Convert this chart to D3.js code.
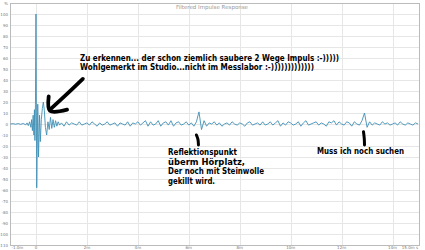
<!DOCTYPE html>
<html>
<head>
<meta charset="utf-8">
<title>Filtered Impulse Response</title>
<script src="https://cdnjs.cloudflare.com/ajax/libs/d3/7.8.5/d3.min.js"></script>
<style>
  html, body { margin: 0; padding: 0; background: #fff; }
  .tick-label { font-family: "DejaVu Sans", sans-serif; font-size: 4px; fill: #777; }
  .note { font-family: "DejaVu Sans", Verdana, sans-serif; font-weight: bold; font-size: 8.2px; fill: #000; }
</style>
</head>
<body>
<div id="chart"></div>
<script>
// head of the impulse, irregular samples [ms, %]
const headTimes = [-1.0, -0.9, -0.8, -0.7, -0.6, -0.5, -0.4, -0.35, -0.3, -0.25, -0.2, -0.17, -0.14, -0.11, -0.08, -0.06, -0.04, -0.02,
  0, 0.03, 0.07, 0.1, 0.14, 0.17, 0.21, 0.25, 0.29, 0.33, 0.37, 0.42, 0.47, 0.52, 0.57, 0.62, 0.67, 0.72, 0.77, 0.82, 0.87, 0.93];
const headValues = [0, 0.3, -0.2, 0.4, -0.3, 0.5, -0.8, 1, -1.5, 2, -3, 4, -6, 8, -10, 13, -15, 18,
  100, -58, 18, -30, 8, -16, 4, 14, 20, 12, -3, -10, 2, -5, 6, -4, 4, -3, 3, -2, 2, -1];

// tail, sampled every 0.1 ms from 1.0 ms
const tailStart = 1.0;
const tailStep = 0.1;
const tailValues = [
  1, -2, 2, -1, 1, 0, -1, 2, -1, 0,
  1, -1, 2, 0, -2, 1, -1, 0, 2, -1,
  0, 1, -2, 1, 0, -1, 2, -2, 1, 0,
  2, -1, 1, 3, -2, 2, -1, 0, 3, -2,
  1, 2, -1, 3, -2, 1, 2, -1, 0, 2,
  -1, 1, -2, 2, 11, -5, 3, -2, 1, 0,
  2, -1, 1, -2, 0, 1, -1, 2, 0, -1,
  1, 0, -2, 1, 2, -1, 0, 1, -1, 2,
  -1, 0, 2, -1, 1, 3, -2, 1, -1, 2,
  1, -1, 0, 2, -2, 1, 3, -1, 0, 1,
  2, -1, 1, 0, -2, 2, 1, 3, -1, 2,
  0, -1, 2, 1, -2, 2, 0, -1, 3, 10,
  -3, 2, -1, 1, 0, -1, 2, 0, 1, -1,
  0, 1, -1, 2, 0, -1, 1, 0, -1, 1,
  0
];

const xTicks = [-1, 0, 2, 4, 6, 8, 10, 12, 14, 15];
const xTickLabels = ["-1.0m", "0", "2m", "4m", "6m", "8m", "10m", "12m", "14m", "15.0m s"];
const yTicks = [110, 100, 90, 80, 70, 60, 50, 40, 30, 20, 10, 0, -10, -20, -30, -40, -50, -60, -70, -80, -90, -100, -110];
const yTickLabels = ["%", "100", "90", "80", "70", "60", "50", "40", "30", "20", "10", "0", "-10", "-20", "-30", "-40", "-50", "-60", "-70", "-80", "-90", "-100", "-110"];

const w = 425, h = 250;
const plotLeft = 10, plotRight = 419, plotTop = 3, plotBottom = 245;

const svg = d3.select("#chart").append("svg")
  .attr("width", w).attr("height", h);

const x = d3.scaleLinear().domain([-1, 15]).range([plotLeft + 0.5, plotRight - 1]);
const y = d3.scaleLinear().domain([-110, 110]).range([plotBottom, plotTop]);

// grid
svg.append("g").selectAll("line").data(yTicks).enter().append("line")
  .attr("x1", plotLeft).attr("x2", plotRight)
  .attr("y1", d => Math.round(y(d)) + 0.5).attr("y2", d => Math.round(y(d)) + 0.5)
  .attr("stroke", "#e6e6e6");
svg.append("g").selectAll("line").data(xTicks.filter(d => d >= 0 && d < 15)).enter().append("line")
  .attr("x1", d => Math.round(x(d)) + 0.5).attr("x2", d => Math.round(x(d)) + 0.5)
  .attr("y1", plotTop).attr("y2", plotBottom)
  .attr("stroke", "#e6e6e6");

svg.append("rect")
  .attr("x", plotLeft + 0.5).attr("y", plotTop + 0.5)
  .attr("width", plotRight - plotLeft).attr("height", plotBottom - plotTop)
  .attr("fill", "none").attr("stroke", "#bbb");

// tick labels
svg.append("g").selectAll("text").data(yTicks).enter().append("text")
  .attr("class", "tick-label")
  .attr("x", 8).attr("y", d => y(d) + 1.5)
  .attr("text-anchor", "end")
  .text((d, i) => yTickLabels[i]);
svg.append("g").selectAll("text").data(xTicks).enter().append("text")
  .attr("class", "tick-label")
  .attr("x", (d, i) => i === 0 ? x(d) + 1 : x(d))
  .attr("y", 249)
  .attr("text-anchor", (d, i) => i === 0 ? "start" : (i === xTicks.length - 1 ? "end" : "middle"))
  .text((d, i) => xTickLabels[i]);

svg.append("text")
  .attr("x", 212).attr("y", 8.5)
  .attr("text-anchor", "middle")
  .style("font-family", "DejaVu Sans, sans-serif")
  .style("font-size", "5.5px")
  .style("fill", "#999")
  .text("Filtered Impulse Response");

// signal
const data = headTimes.map((t, i) => [t, headValues[i]])
  .concat(tailValues.map((v, i) => [tailStart + i * tailStep, v]));

const line = d3.line().x(d => x(d[0])).y(d => y(d[1]));
svg.append("path")
  .datum(data)
  .attr("d", line)
  .attr("fill", "none")
  .attr("stroke", "#3f90b6")
  .attr("stroke-width", 0.9)
  .attr("stroke-linejoin", "round");

// annotation strokes, in data units [ms, %]
const arrowShaft = [[1.84, 41], [1.2, 27], [0.55, 13]];
const arrowHead = [[0.5, 25], [0.55, 12], [1.22, 13]];
const mark1 = [[6.3, -10], [6.36, -14], [6.38, -19]];
const mark2 = [[12.86, -7], [12.89, -13], [12.9, -19]];

const brush = d3.line().x(d => x(d[0])).y(d => y(d[1])).curve(d3.curveCatmullRom);
[[arrowShaft, 3.8], [arrowHead, 3.8], [mark1, 3], [mark2, 3]].forEach(([pts, sw]) => {
  svg.append("path")
    .attr("d", brush(pts))
    .attr("fill", "none")
    .attr("stroke", "#000")
    .attr("stroke-width", sw)
    .attr("stroke-linecap", "round")
    .attr("stroke-linejoin", "round");
});

// notes
const notes = [
  { x: 80, y: 61, len: 259, text: "Zu erkennen... der schon ziemlich saubere 2 Wege Impuls :-)))))" },
  { x: 80, y: 69.5, len: 234, text: "Wohlgemerkt im Studio...nicht im Messlabor :-)))))))))))))" },
  { x: 168, y: 155, len: 69, text: "Reflektionspunkt" },
  { x: 168, y: 164.5, len: 77, text: "überm Hörplatz," },
  { x: 168, y: 174, len: 96, text: "Der noch mit Steinwolle" },
  { x: 168, y: 183.5, len: 47, text: "gekillt wird." },
  { x: 317, y: 153.5, len: 87, text: "Muss ich noch suchen" }
];
svg.append("g").selectAll("text").data(notes).enter().append("text")
  .attr("class", "note")
  .attr("x", d => d.x).attr("y", d => d.y)
  .attr("textLength", d => d.len)
  .attr("lengthAdjust", "spacingAndGlyphs")
  .text(d => d.text);
</script>
</body>
</html>
